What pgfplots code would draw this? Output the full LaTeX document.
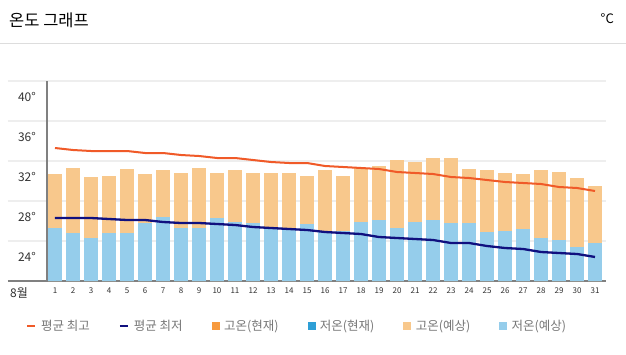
\documentclass[border=0pt]{standalone}
\usepackage{fontspec}
\setmainfont{Noto Sans CJK KR}
\usepackage{pgfplots}
\usepackage{pgfplotstable}
\pgfplotsset{compat=1.18}
\definecolor{maxc}{HTML}{F05A28}
\definecolor{minc}{HTML}{10107F}
\definecolor{hicur}{HTML}{F79A3E}
\definecolor{locur}{HTML}{2E9FD6}
\definecolor{hifc}{HTML}{F8C88C}
\definecolor{lofc}{HTML}{95CDEB}
\definecolor{gridc}{HTML}{EEEEEE}
\definecolor{axisc}{HTML}{808080}
\definecolor{sepc}{HTML}{DDDDDD}
\definecolor{legc}{HTML}{777777}
\definecolor{tickc}{HTML}{333333}
\pgfplotstableread{
d hi lo amax amin
1 30.7 25.3 33.3 26.3
2 31.3 24.8 33.1 26.3
3 30.4 24.3 33.0 26.3
4 30.5 24.8 33.0 26.2
5 31.2 24.8 33.0 26.1
6 30.7 25.8 32.8 26.1
7 31.1 26.4 32.8 25.9
8 30.8 25.3 32.6 25.8
9 31.3 25.3 32.5 25.8
10 30.8 26.3 32.3 25.7
11 31.1 25.9 32.3 25.6
12 30.8 25.8 32.1 25.4
13 30.8 25.3 31.9 25.3
14 30.8 25.3 31.8 25.2
15 30.5 25.7 31.8 25.1
16 31.1 24.9 31.5 24.9
17 30.5 25.0 31.4 24.8
18 31.3 25.9 31.3 24.7
19 31.5 26.1 31.2 24.4
20 32.1 25.3 30.9 24.3
21 31.9 25.9 30.8 24.2
22 32.3 26.1 30.7 24.1
23 32.3 25.8 30.4 23.8
24 31.2 25.8 30.3 23.8
25 31.1 24.9 30.1 23.5
26 30.8 25.0 29.9 23.3
27 30.7 25.2 29.8 23.2
28 31.1 24.3 29.7 22.9
29 30.9 24.1 29.4 22.8
30 30.3 23.4 29.3 22.7
31 29.5 23.8 29.0 22.4
}\data
\begin{document}
\begin{tikzpicture}
\path[use as bounding box] (0,0) rectangle (626pt,354pt);
\fill[white] (0,0) rectangle (626pt,354pt);
\node[anchor=west, font=\fontsize{16.5}{19}\selectfont, inner sep=0pt, text=black] at (9pt,334pt) {온도 그래프};
\node[anchor=east, font=\fontsize{13}{15}\selectfont, inner sep=0pt, text=black] at (614pt,335pt) {°C};
\draw[color=sepc, line width=1pt] (0,310.5pt) -- (626pt,310.5pt);
\begin{axis}[
  at={(8pt,73pt)}, anchor=south west,
  scale only axis, width=598pt, height=200pt,
  xmin=-1.61, xmax=31.61, ymin=20, ymax=40,
  axis lines*=left,
  y axis line style={draw=none},
  x axis line style={draw=axisc, line width=2pt, -},
  major tick length=0pt,
  xtick={-1,1,2,3,4,5,6,7,8,9,10,11,12,13,14,15,16,17,18,19,20,21,22,23,24,25,26,27,28,29,30,31},
  xticklabels={{\fontsize{12}{14}\selectfont 8월},1,2,3,4,5,6,7,8,9,10,11,12,13,14,15,16,17,18,19,20,21,22,23,24,25,26,27,28,29,30,31},
  xticklabel style={font=\fontsize{8}{10}\selectfont, text=tickc, yshift=-3pt},
  ytick={20,24,28,32,36,40},
  yticklabels={,24°,28°,32°,36°,40°},
  yticklabel style={anchor=east, inner sep=0pt, xshift=28pt, yshift=-16pt, font=\fontsize{12}{14}\selectfont, text=tickc},
  ymajorgrids,
  grid style={color=gridc, line width=1.3pt},
  extra x ticks={0.556},
  extra x tick labels={},
  extra x tick style={xmajorgrids=true, major grid style={color=axisc, line width=2.7pt}},
  legend columns=6,
  legend style={at={(axis description cs:0.0300,-0.225)}, anchor=west, draw=none, fill=none, inner sep=0pt,
    font=\fontsize{12.5}{14}\selectfont, text=legc,
    /tikz/every even column/.append style={column sep=27pt},
    /tikz/every odd column/.append style={column sep=3pt}},
]
\addlegendimage{legend image code/.code={\draw[maxc, line width=2pt] (0pt,0pt) -- (8pt,0pt);}}
\addlegendentry{평균 최고}
\addlegendimage{legend image code/.code={\draw[minc, line width=2pt] (0pt,0pt) -- (8pt,0pt);}}
\addlegendentry{평균 최저}
\addlegendimage{legend image code/.code={\fill[hicur] (0pt,-3.5pt) rectangle (7pt,3.5pt);}}
\addlegendentry{고온(현재)}
\addlegendimage{legend image code/.code={\fill[locur] (0pt,-3.5pt) rectangle (7pt,3.5pt);}}
\addlegendentry{저온(현재)}
\addlegendimage{legend image code/.code={\fill[hifc] (0pt,-3.5pt) rectangle (7pt,3.5pt);}}
\addlegendentry{고온(예상)}
\addlegendimage{legend image code/.code={\fill[lofc] (0pt,-3.5pt) rectangle (7pt,3.5pt);}}
\addlegendentry{저온(예상)}
\addplot[ybar, bar width=13.7pt, bar shift=0pt, fill=hifc, draw=none, forget plot] table[x=d,y=hi]{\data};
\addplot[ybar, bar width=13.7pt, bar shift=0pt, fill=lofc, draw=none, forget plot] table[x=d,y=lo]{\data};
\addplot[maxc, line width=2pt, no marks, forget plot] table[x=d,y=amax]{\data};
\addplot[minc, line width=2.3pt, no marks, forget plot] table[x=d,y=amin]{\data};
\end{axis}
\end{tikzpicture}
\end{document}
